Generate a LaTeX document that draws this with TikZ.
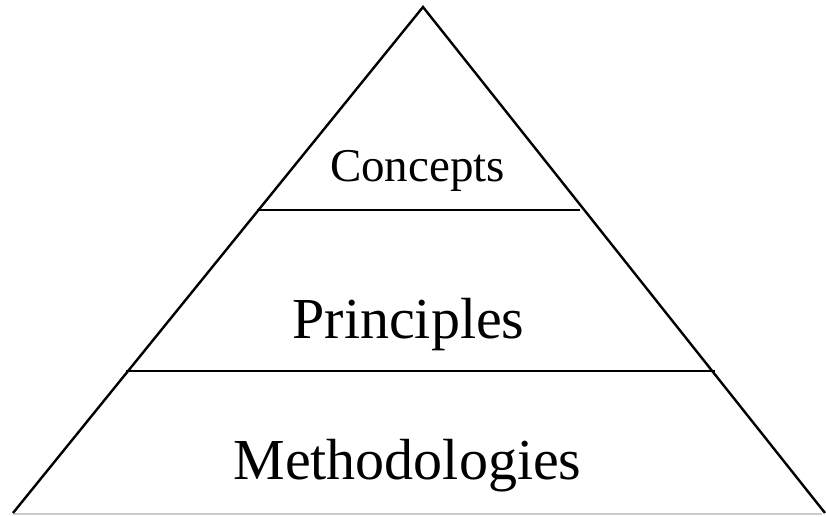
\documentclass[tikz,border=0pt]{standalone}
\usepackage{fontspec}
\setmainfont{Liberation Serif}
\begin{document}
\begin{tikzpicture}[x=1pt,y=1pt,line width=2.4pt,
  level/.style={inner sep=0pt,anchor=base}]
\useasboundingbox (0,0) rectangle (826,516);
%pyramid
\draw[gray!40,line width=1.4pt] (13,2) -- (822,2);
\draw (13,3) -- (423,509) -- (825,3);
%levels
\draw[line width=2pt] (257,306) -- (580,306);
\draw[line width=2pt] (126,145) -- (715,145);
\node[level,font=\fontsize{47}{50}\selectfont] (concepts) at (417.5,334) {Concepts};
\node[level,font=\fontsize{58}{62}\selectfont] (principles) at (408.5,177) {Principles};
\node[level,font=\fontsize{58}{62}\selectfont] (methods) at (407.5,36) {Methodologies};
\end{tikzpicture}
\end{document}
